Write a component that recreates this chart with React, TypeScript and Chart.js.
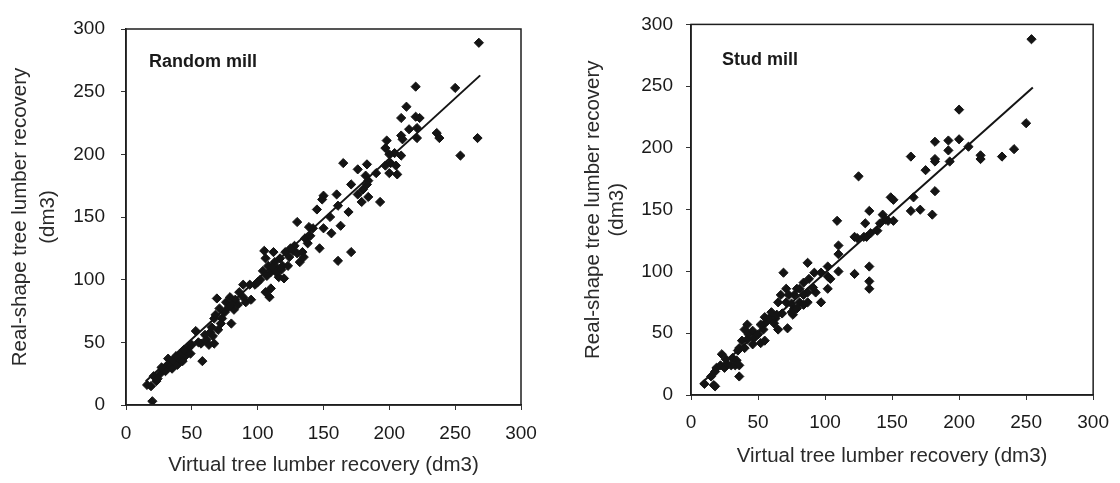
import React, { useEffect, useRef } from "react";
import { Chart, registerables } from "chart.js";

Chart.register(...registerables);

// ---------- data ----------
const axisTicks = [0, 50, 100, 150, 200, 250, 300];

const xTitle = "Virtual tree lumber recovery (dm3)";
const yTitle = ["Real-shape tree lumber recovery", "(dm3)"];

const randomMillLabel = "Random mill";
const randomMillX = [
  16, 20, 19, 23, 21, 26, 24, 28, 31, 34, 32, 36, 35, 39, 41, 38, 42, 45, 43, 46,
  47, 49, 53, 58, 57, 61, 60, 64, 63, 67, 65, 67, 68, 69, 71, 73, 72, 75, 76, 78,
  80, 79, 82, 83, 80, 86, 89, 91, 89, 94, 98, 95, 104, 105, 106, 109, 110, 106, 108, 110,
  113, 115, 116, 119, 120, 112, 117, 121, 123, 124, 128, 127, 130, 130, 132, 134, 136, 138, 139, 142,
  135, 147, 145, 150, 149, 150, 156, 161, 160, 163, 161, 169, 165, 171, 171, 176, 176, 179, 180, 183,
  182, 184, 183, 184, 193, 197, 198, 197, 200, 201, 204, 205, 206, 209, 209, 210, 209, 213, 220, 220,
  223, 221, 221, 236, 238, 250, 254, 267, 268,
  102, 107, 111, 114, 118, 100, 85, 70, 66, 55, 30, 27, 44, 50, 125, 140, 155, 190, 200, 215,
];
const randomMillY = [
  16, 3, 15, 19, 23, 25, 21, 28, 31, 32, 37, 35, 29, 32, 36, 39, 41, 39, 35, 43,
  45, 41, 59, 35, 49, 52, 56, 58, 48, 49, 62, 69, 72, 85, 77, 69, 65, 74, 82, 78,
  65, 86, 76, 84, 80, 90, 86, 82, 96, 96, 96, 84, 107, 123, 90, 86, 93, 117, 111, 106,
  114, 109, 102, 111, 101, 122, 117, 122, 111, 118, 127, 123, 121, 146, 114, 122, 133, 129, 142, 141,
  118, 125, 156, 167, 164, 141, 137, 159, 168, 143, 115, 154, 193, 122, 176, 168, 188, 162, 172, 192,
  183, 179, 176, 166, 162, 205, 211, 191, 185, 193, 201, 191, 184, 199, 215, 212, 229, 238, 254, 230,
  229, 221, 213, 217, 213, 253, 199, 213, 289,
  100, 103, 110, 106, 108, 98, 80, 60, 55, 50, 27, 30, 44, 48, 125, 135, 150, 185, 200, 220,
];
const randomMillFitX = [15, 269];
const randomMillFitY = [19, 263];

const studMillLabel = "Stud mill";
const studMillX = [
  10, 17, 18, 15, 18, 19, 22, 25, 23, 27, 30, 31, 34, 33, 36, 36, 36, 35, 38, 40,
  42, 43, 42, 46, 40, 47, 52, 55, 54, 56, 55, 52, 59, 60, 63, 64, 65, 72, 68, 65,
  71, 75, 76, 77, 69, 71, 67, 73, 79, 77, 81, 87, 84, 79, 81, 84, 88, 87, 84, 87,
  92, 97, 102, 104, 102, 97, 109, 110, 110, 110, 122, 125, 124, 122, 129, 131, 130, 133, 133, 133,
  133, 141, 143, 145, 147, 151, 149, 151, 164, 166, 164, 171, 175, 182, 182, 182, 182, 180, 192, 192,
  193, 200, 200, 207, 216, 216, 232, 241, 250, 254,
  93, 91, 75, 62, 50, 46, 26, 134, 139, 102,
];
const studMillY = [
  9, 8, 7, 15, 19, 22, 24, 22, 33, 25, 24, 30, 28, 24, 24, 15, 38, 36, 44, 38,
  45, 49, 57, 52, 53, 46, 42, 44, 53, 59, 63, 57, 63, 67, 62, 65, 53, 54, 66, 75,
  75, 74, 65, 70, 99, 86, 81, 81, 86, 81, 75, 75, 73, 70, 86, 91, 94, 83, 81, 107,
  99, 99, 96, 94, 86, 75, 141, 121, 114, 100, 98, 177, 127, 128, 128, 128, 139, 149, 104, 92,
  86, 139, 146, 142, 141, 141, 160, 158, 193, 160, 149, 150, 182, 205, 191, 189, 165, 146, 206, 198,
  189, 207, 231, 201, 194, 191, 193, 199, 220, 288,
  83, 87, 67, 58, 49, 41, 29, 131, 133, 104,
];
const studMillFitX = [7, 255];
const studMillFitY = [9, 249];

// ---------- plugins ----------
const framePlugin = {
  id: "frameBox",
  afterDatasetsDraw(chart: any) {
    const { ctx, chartArea } = chart;
    const { left, top, right, bottom } = chartArea;
    ctx.save();
    ctx.strokeStyle = "#1e1e1e";
    ctx.lineWidth = 1.5;
    ctx.strokeRect(left, top, right - left, bottom - top);
    ctx.restore();
  },
};

const panelLabelPlugin = {
  id: "panelLabel",
  afterDraw(chart: any, _args: any, opts: any) {
    if (!opts || !opts.text) return;
    const { ctx, chartArea } = chart;
    ctx.save();
    ctx.font = "bold 18px 'Liberation Sans', Arial, sans-serif";
    ctx.fillStyle = "#1a1a1a";
    ctx.textAlign = "left";
    ctx.textBaseline = "middle";
    ctx.fillText(opts.text, chartArea.left + opts.dx, chartArea.top + opts.dy);
    ctx.restore();
  },
};

type PanelProps = {
  left: number;
  label: string;
  xs: number[];
  ys: number[];
  fitX: number[];
  fitY: number[];
  yAxisWidth: number;
  xAxisHeight: number;
  padRight: number;
  padTop: number;
  yTickPad: number;
  xTickPad: number;
  yTitlePadTop: number;
  yTitleLineHeight: number;
  xTitlePadBottom: number;
  labelDx: number;
  labelDy: number;
};

const FONT = "'Liberation Sans', Arial, Helvetica, sans-serif";

function Panel(p: PanelProps) {
  const ref = useRef<HTMLCanvasElement | null>(null);
  useEffect(() => {
    if (!ref.current) return;
    const points = p.xs.map((x, i) => ({ x, y: p.ys[i] }));
    const fit = p.fitX.map((x, i) => ({ x, y: p.fitY[i] }));
    const tickObjs = () => axisTicks.map((v) => ({ value: v }));
    const chart = new Chart(ref.current, {
      type: "scatter",
      data: {
        datasets: [
          {
            type: "scatter",
            data: points,
            pointStyle: "rectRot",
            pointRadius: 4.6,
            backgroundColor: "#141414",
            borderColor: "#141414",
            borderWidth: 1,
          } as any,
          {
            type: "line",
            data: fit,
            borderColor: "#141414",
            borderWidth: 2,
            pointRadius: 0,
            fill: false,
          } as any,
        ],
      },
      options: {
        animation: false,
        responsive: false,
        maintainAspectRatio: false,
        layout: { padding: { left: 0, right: p.padRight, top: p.padTop, bottom: 0 } },
        plugins: {
          legend: { display: false },
          tooltip: { enabled: false },
          panelLabel: { text: p.label, dx: p.labelDx, dy: p.labelDy },
        } as any,
        scales: {
          x: {
            type: "linear",
            min: 0,
            max: 300,
            afterBuildTicks: (s: any) => {
              s.ticks = tickObjs();
            },
            afterFit: (s: any) => {
              s.height = p.xAxisHeight;
            },
            grid: {
              display: true,
              drawOnChartArea: false,
              drawTicks: true,
              tickLength: 5,
              color: "#333",
            },
            border: { display: true, color: "#1e1e1e", width: 1.5 },
            ticks: {
              autoSkip: false,
              maxRotation: 0,
              padding: p.xTickPad,
              color: "#1a1a1a",
              font: { family: FONT, size: 19 },
            },
            title: {
              display: true,
              text: xTitle,
              color: "#2a2a2a",
              font: { family: FONT, size: 20.5 },
              padding: { top: 0, bottom: p.xTitlePadBottom },
            },
          },
          y: {
            type: "linear",
            min: 0,
            max: 300,
            afterBuildTicks: (s: any) => {
              s.ticks = tickObjs();
            },
            afterFit: (s: any) => {
              s.width = p.yAxisWidth;
            },
            grid: {
              display: true,
              drawOnChartArea: false,
              drawTicks: true,
              tickLength: 5,
              color: "#333",
            },
            border: { display: true, color: "#1e1e1e", width: 1.5 },
            ticks: {
              autoSkip: false,
              padding: p.yTickPad,
              color: "#1a1a1a",
              font: { family: FONT, size: 19 },
            },
            title: {
              display: true,
              text: yTitle,
              color: "#2a2a2a",
              font: { family: FONT, size: 20.5, lineHeight: p.yTitleLineHeight },
              padding: { top: p.yTitlePadTop, bottom: 0 },
            },
          },
        },
      } as any,
      plugins: [framePlugin, panelLabelPlugin],
    });
    return () => chart.destroy();
  }, []);
  return (
    <canvas
      ref={ref}
      width={560}
      height={483}
      style={{ position: "absolute", left: p.left, top: 0, width: 560, height: 483, display: "block" }}
    />
  );
}

export default function App() {
  return (
    <div style={{ position: "absolute", left: 0, top: 0, width: 1120, height: 483, background: "#fff", overflow: "hidden" }}>
      <Panel
        left={0}
        label={randomMillLabel}
        xs={randomMillX}
        ys={randomMillY}
        fitX={randomMillFitX}
        fitY={randomMillFitY}
        yAxisWidth={126}
        xAxisHeight={78}
        padRight={39}
        padTop={29}
        yTickPad={16}
        xTickPad={12}
        yTitlePadTop={7}
        yTitleLineHeight={1.35}
        xTitlePadBottom={5}
        labelDx={23}
        labelDy={33}
      />
      <Panel
        left={560}
        label={studMillLabel}
        xs={studMillX}
        ys={studMillY}
        fitX={studMillFitX}
        fitY={studMillFitY}
        yAxisWidth={131}
        xAxisHeight={88}
        padRight={21}
        padTop={16}
        yTickPad={13}
        xTickPad={11}
        yTitlePadTop={22}
        yTitleLineHeight={1.15}
        xTitlePadBottom={14}
        labelDx={31}
        labelDy={36}
      />
    </div>
  );
}
